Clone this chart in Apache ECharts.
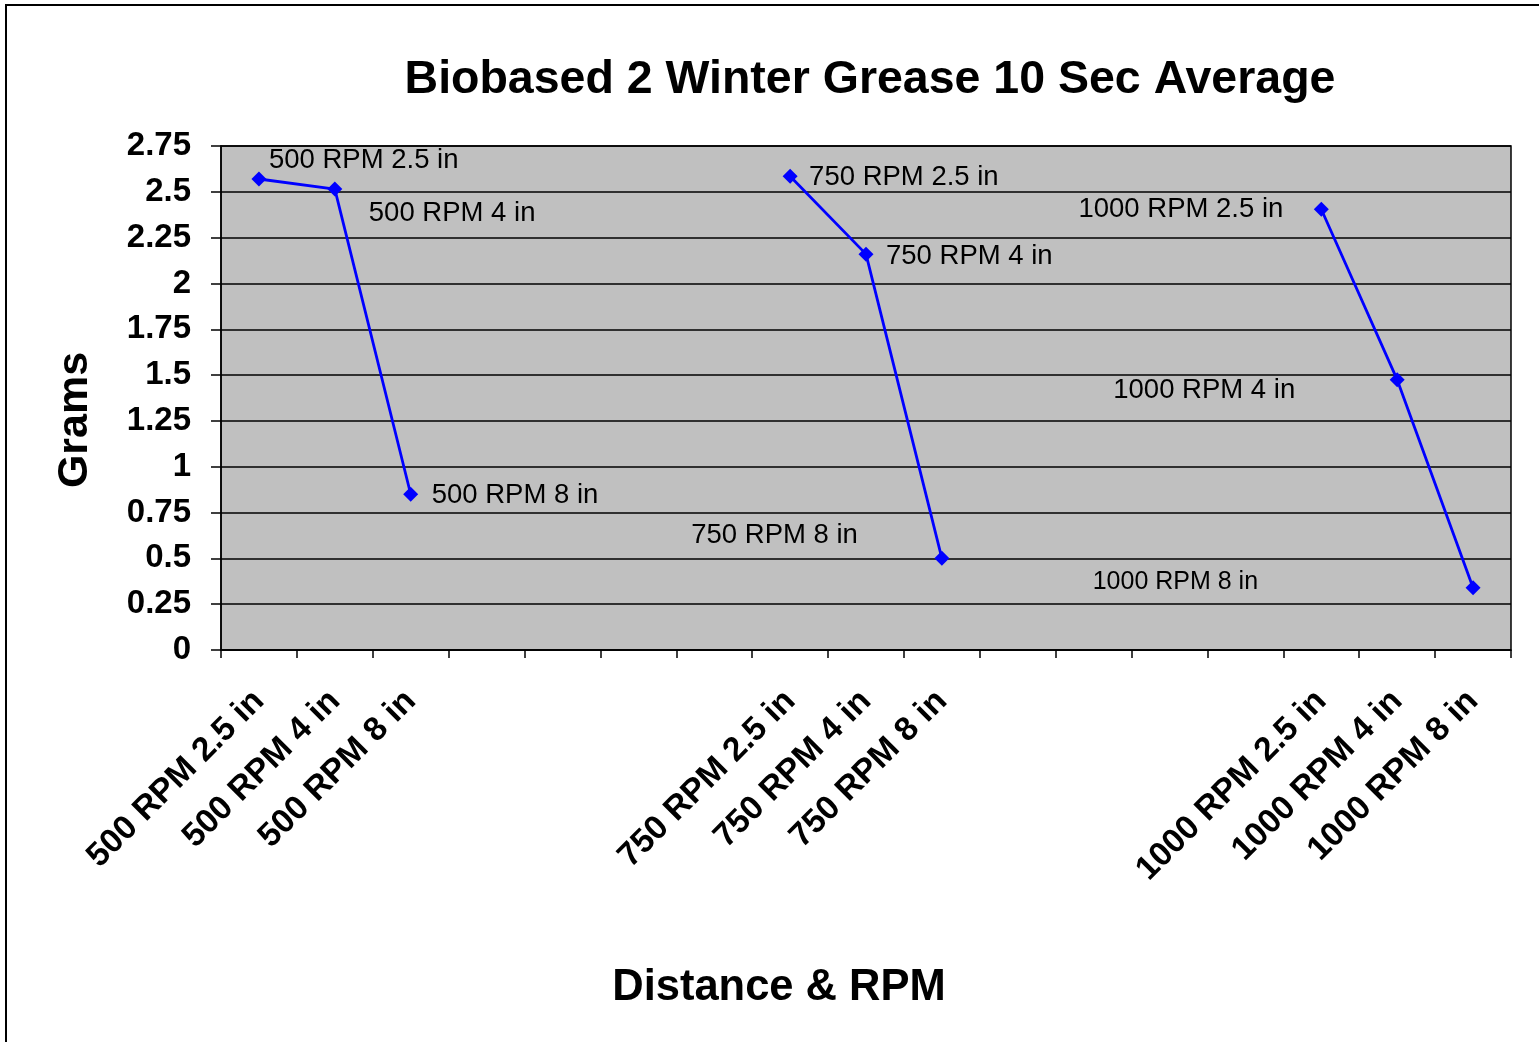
<!DOCTYPE html>
<html>
<head>
<meta charset="utf-8">
<script src="https://cdn.jsdelivr.net/npm/echarts@6/dist/echarts.min.js"></script>
<style>
  html, body { margin: 0; padding: 0; background: #fff; }
  #main { width: 1539px; height: 1042px; }
</style>
</head>
<body>
<div id="main"></div>
<script>
// categories (blank slots keep the gaps between RPM groups)
var categories = [
  '500 RPM 2.5 in', '500 RPM 4 in', '500 RPM 8 in', '', '', '', '',
  '750 RPM 2.5 in', '750 RPM 4 in', '750 RPM 8 in', '', '', '', '',
  '1000 RPM 2.5 in', '1000 RPM 4 in', '1000 RPM 8 in'
];
var grams = [
  2.57, 2.515, 0.85, null, null, null, null,
  2.585, 2.16, 0.50, null, null, null, null,
  2.405, 1.475, 0.34
];
var yTicks = { min: 0, max: 2.75, step: 0.25 };

// where each point's label sits, relative to the point: [dx, dy, align, fontSize]
var labelPlacement = [
  [10, -19, 'left', 27.5], [34, 24, 'left', 27.5], [21, 1, 'left', 27.5],
  [19, 1, 'left', 27.5], [20, 2, 'left', 27.5], [-84, -23, 'right', 27.5],
  [-38, 0, 'right', 27.5], [-102, 11, 'right', 27.5], [-215, -6, 'right', 25]
];

var font = 'Liberation Sans, Arial, sans-serif';
var symSize = 15;

var k = 0;
var seriesData = grams.map(function (v, i) {
  if (v === null) return '-';
  var p = labelPlacement[k++];
  return {
    value: v,
    label: {
      show: true,
      formatter: categories[i],
      position: [symSize / 2 + p[0], symSize / 2 + p[1]],
      align: p[2],
      verticalAlign: 'middle',
      fontSize: p[3]
    }
  };
});

var chart = echarts.init(document.getElementById('main'));

chart.setOption({
  animation: false,
  backgroundColor: '#fff',
  grid: {
    left: 221, right: 28, top: 146, bottom: 392,
    show: true,
    backgroundColor: '#C0C0C0',
    borderColor: '#000',
    borderWidth: 1.5,
    outerBoundsMode: 'none'
  },
  graphic: [
    {
      type: 'rect', silent: true,
      shape: { x: 6, y: 5, width: 1560, height: 1060 },
      style: { fill: 'none', stroke: '#000', lineWidth: 2 }
    },
    {
      type: 'text', x: 870, y: 80,
      style: { text: 'Biobased 2 Winter Grease 10 Sec Average', font: 'bold 46.5px ' + font,
        fill: '#000', align: 'center', verticalAlign: 'middle' }
    },
    {
      type: 'text', x: 779, y: 988,
      style: { text: 'Distance & RPM', font: 'bold 43.5px ' + font,
        fill: '#000', align: 'center', verticalAlign: 'middle' }
    },
    {
      type: 'text', x: 75, y: 420, rotation: Math.PI / 2,
      style: { text: 'Grams', font: 'bold 43px ' + font,
        fill: '#000', align: 'center', verticalAlign: 'middle' }
    }
  ],
  xAxis: {
    type: 'category',
    data: categories,
    boundaryGap: true,
    axisLine: { show: true, lineStyle: { color: '#000', width: 1.5 } },
    axisTick: { show: true, length: 8, interval: 0, alignWithLabel: false, lineStyle: { color: '#000', width: 1.5 } },
    axisLabel: {
      interval: 0, rotate: 45, margin: 46,
      color: '#000', fontFamily: font, fontWeight: 'bold', fontSize: 33.5
    },
    splitLine: { show: false }
  },
  yAxis: {
    type: 'value',
    min: yTicks.min, max: yTicks.max, interval: yTicks.step,
    axisLine: { show: true, lineStyle: { color: '#000', width: 1.5 } },
    axisTick: { show: true, length: 10, lineStyle: { color: '#000', width: 1.5 } },
    axisLabel: { margin: 30, color: '#000', fontFamily: font, fontWeight: 'bold', fontSize: 33 },
    splitLine: { show: true, lineStyle: { color: '#000', width: 1.5 } }
  },
  series: [
    {
      type: 'line',
      data: seriesData,
      connectNulls: false,
      symbol: 'diamond',
      symbolSize: symSize,
      itemStyle: { color: '#0000FF' },
      lineStyle: { color: '#0000FF', width: 2.8 },
      label: { color: '#000', fontFamily: font, fontSize: 27.5 }
    }
  ]
});
</script>
</body>
</html>
